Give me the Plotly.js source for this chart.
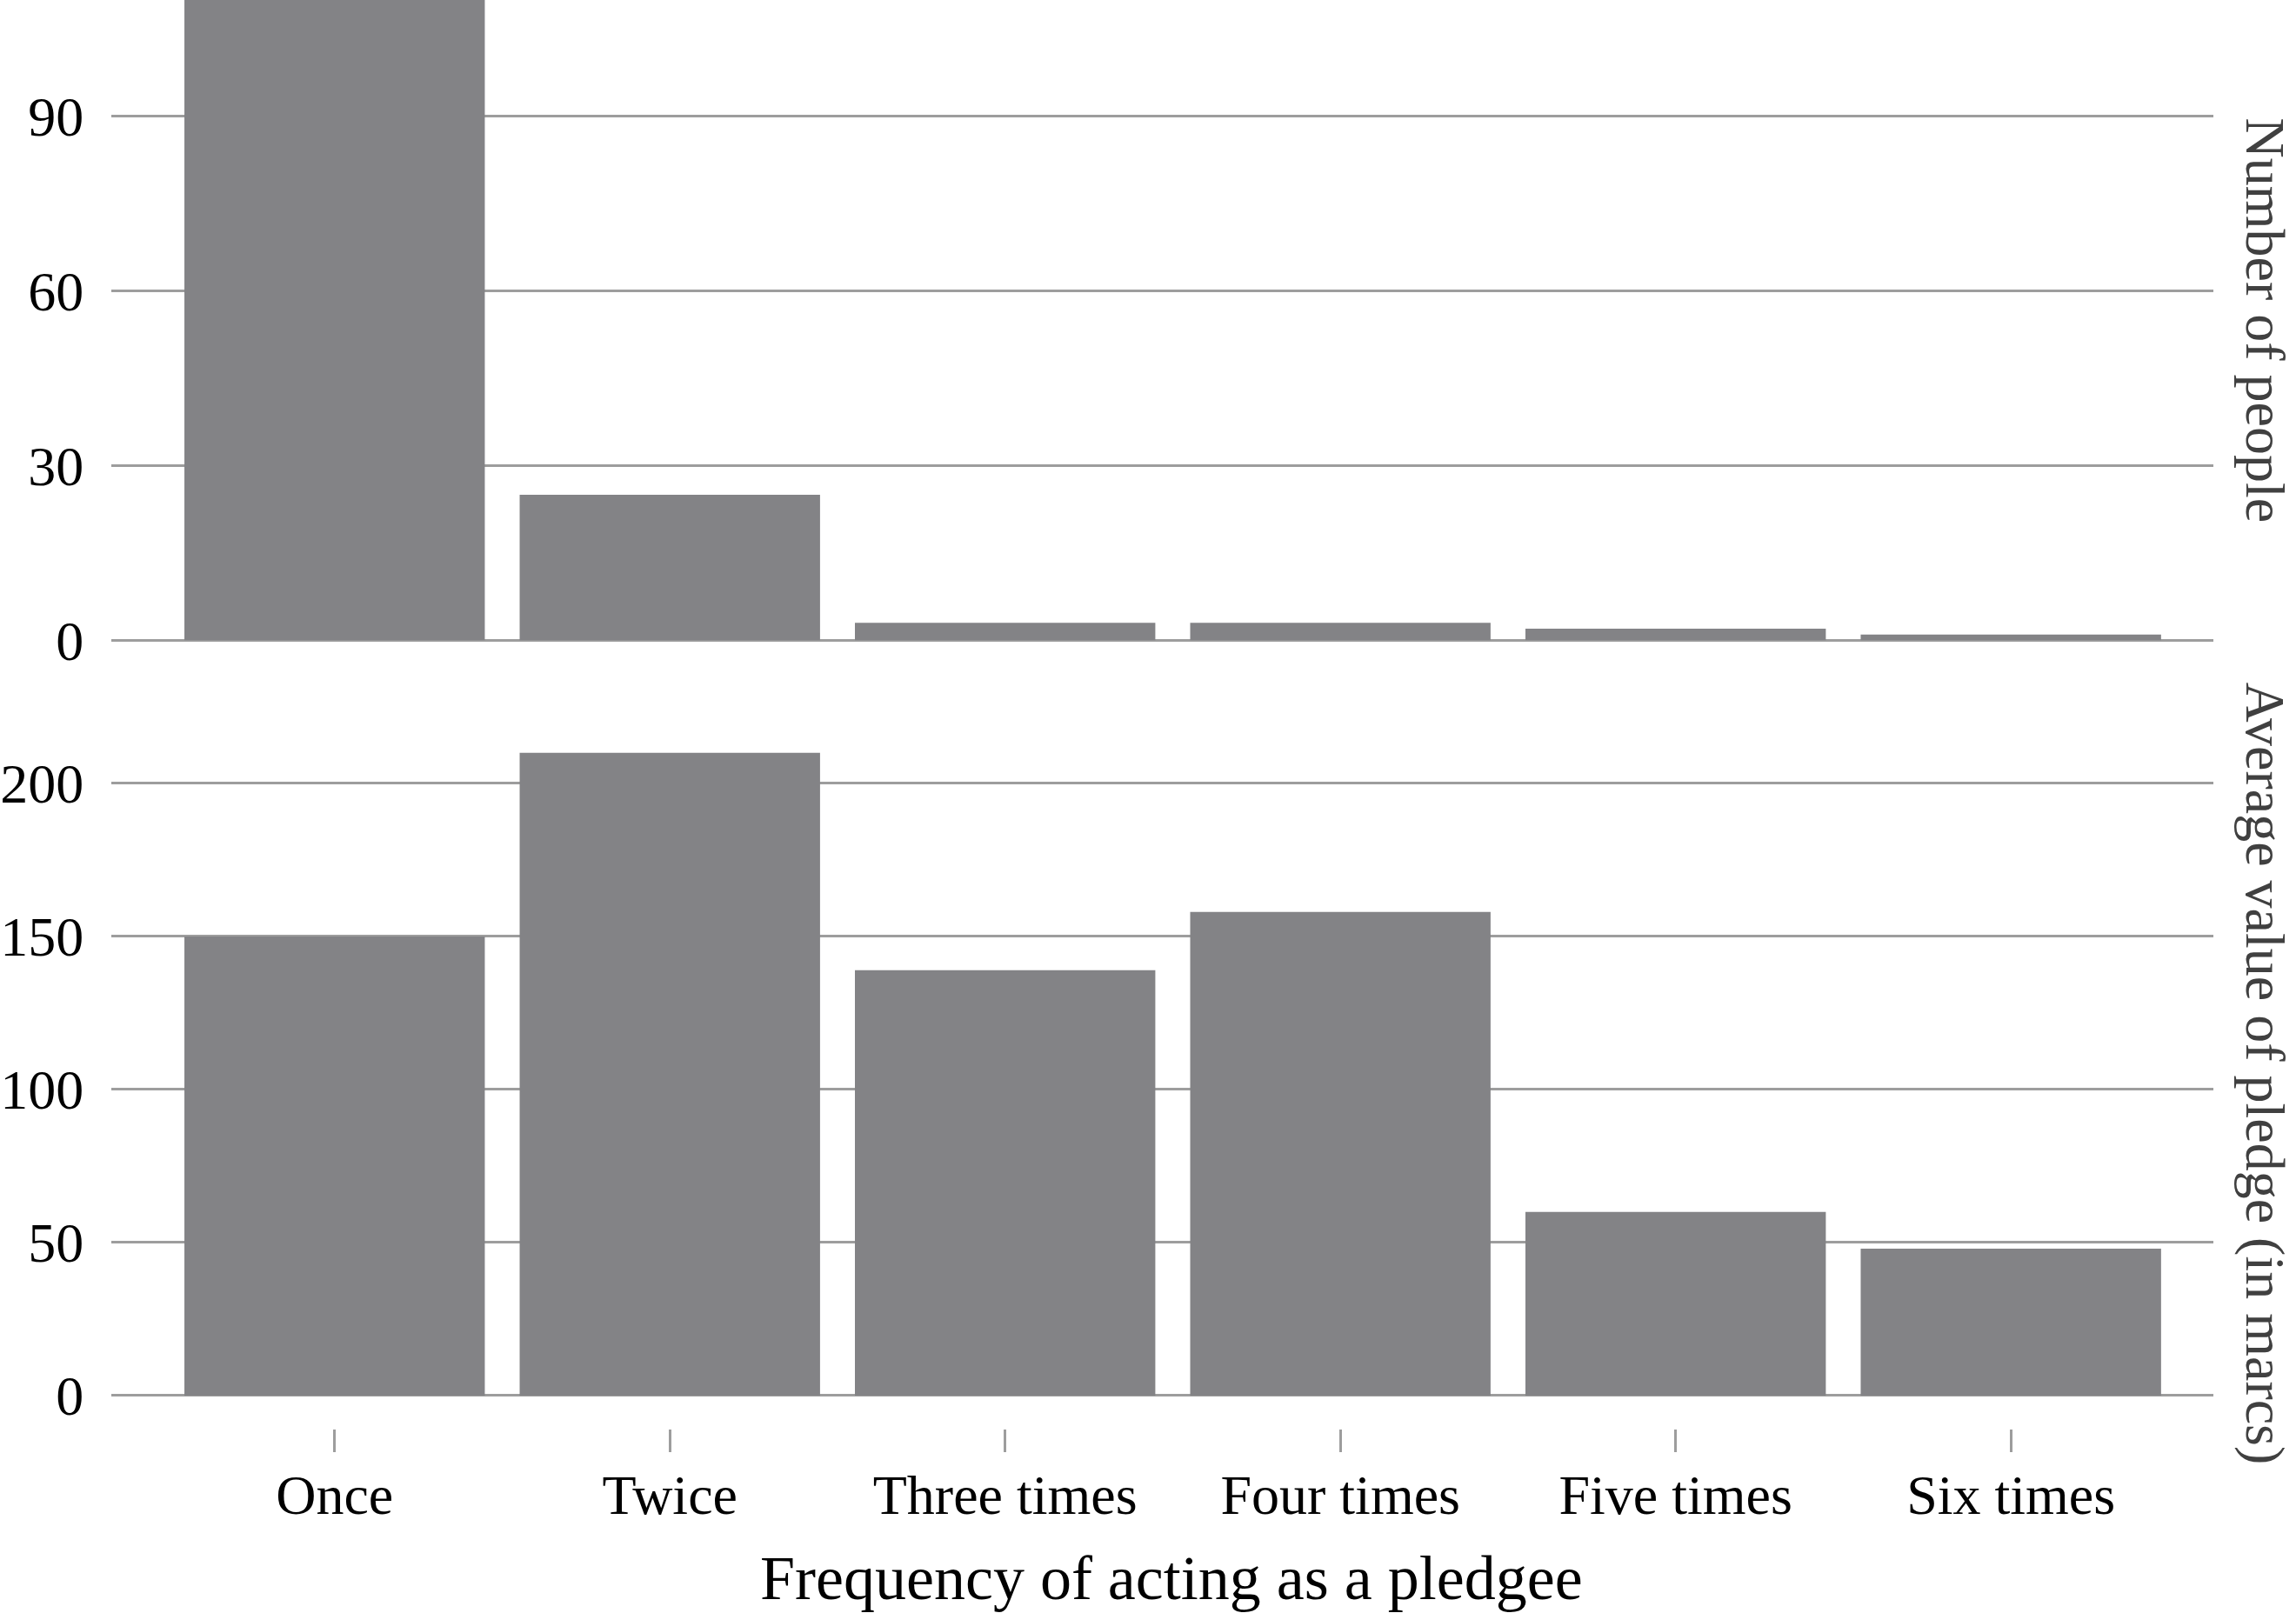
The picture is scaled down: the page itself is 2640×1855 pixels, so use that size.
<!DOCTYPE html>
<html>
<head>
<meta charset="utf-8">
<script src="https://cdn.plot.ly/plotly-3.0.1.min.js"></script>
<style>
  html, body { margin: 0; padding: 0; background: #ffffff; }
  #chart { width: 2640px; height: 1855px; }
</style>
</head>
<body>
<div id="chart"></div>
<script>
// ---- data ----
const categories = ["Once", "Twice", "Three times", "Four times", "Five times", "Six times"];
const numberOfPeople = [120, 25, 3, 3, 2, 1];          // first bar runs off the top of the figure
const averageValue = [150, 210, 139, 158, 60, 48];     // in marcs
const peopleTicks = [0, 30, 60, 90];
const valueTicks = [0, 50, 100, 150, 200];
const xTitle = "Frequency of acting as a pledgee";
const topTitle = "Number of people";
const bottomTitle = "Average value of pledge (in marcs)";

const barColor = "#838386";
const gridColor = "#9d9d9d";
const serif = "Liberation Serif, Times New Roman, serif";

const traces = [
  { type: "bar", x: categories, y: numberOfPeople, xaxis: "x", yaxis: "y",
    marker: { color: barColor, line: { width: 0 } }, hoverinfo: "x+y" },
  { type: "bar", x: categories, y: averageValue, xaxis: "x2", yaxis: "y2",
    marker: { color: barColor, line: { width: 0 } }, hoverinfo: "x+y" }
];

const xr = [-0.666, 5.604];
const layout = {
  width: 2640, height: 1855,
  margin: { l: 128, r: 95, t: 0, b: 212 },
  paper_bgcolor: "#ffffff", plot_bgcolor: "#ffffff",
  showlegend: false,
  bargap: 0.104,
  font: { family: serif, color: "#000000", size: 64 },
  xaxis: {
    type: "category", categoryorder: "array", categoryarray: categories,
    range: xr, domain: [0, 1], anchor: "y",
    showticklabels: false, ticks: "", showgrid: false, zeroline: false, showline: false
  },
  yaxis: {
    domain: [0.5508, 1], anchor: "x", range: [-0.25, 110],
    tickvals: peopleTicks, ticktext: peopleTicks.map(String),
    showgrid: true, gridcolor: gridColor, gridwidth: 3,
    zeroline: false, showline: false,
    ticks: "outside", ticklen: 18, tickcolor: "rgba(0,0,0,0)",
    tickfont: { family: serif, size: 64, color: "#000000" }
  },
  xaxis2: {
    type: "category", categoryorder: "array", categoryarray: categories,
    range: xr, domain: [0, 1], anchor: "y2",
    showgrid: false, zeroline: false, showline: false,
    ticks: "outside", ticklen: 26, tickwidth: 3, tickcolor: gridColor,
    ticklabelstandoff: -6,
    tickfont: { family: serif, size: 64, color: "#000000" }
  },
  yaxis2: {
    domain: [0, 0.5159], anchor: "x2", range: [-10.8, 230],
    tickvals: valueTicks, ticktext: valueTicks.map(String),
    showgrid: true, gridcolor: gridColor, gridwidth: 3,
    zeroline: false, showline: false,
    ticks: "outside", ticklen: 18, tickcolor: "rgba(0,0,0,0)",
    tickfont: { family: serif, size: 64, color: "#000000" }
  },
  annotations: [
    { text: topTitle, xref: "paper", yref: "paper", x: 1.0248, y: 0.7757,
      xanchor: "center", yanchor: "middle", textangle: 90, showarrow: false,
      font: { family: serif, size: 64, color: "#404040" } },
    { text: bottomTitle, xref: "paper", yref: "paper", x: 1.0248, y: 0.2486,
      xanchor: "center", yanchor: "middle", textangle: 90, showarrow: false,
      font: { family: serif, size: 64, color: "#404040" } },
    { text: xTitle, xref: "paper", yref: "paper", x: 0.5043, y: -0.1045,
      xanchor: "center", yanchor: "middle", showarrow: false,
      font: { family: serif, size: 72, color: "#000000" } }
  ]
};

Plotly.newPlot("chart", traces, layout, { displayModeBar: false, staticPlot: true });
</script>
</body>
</html>
